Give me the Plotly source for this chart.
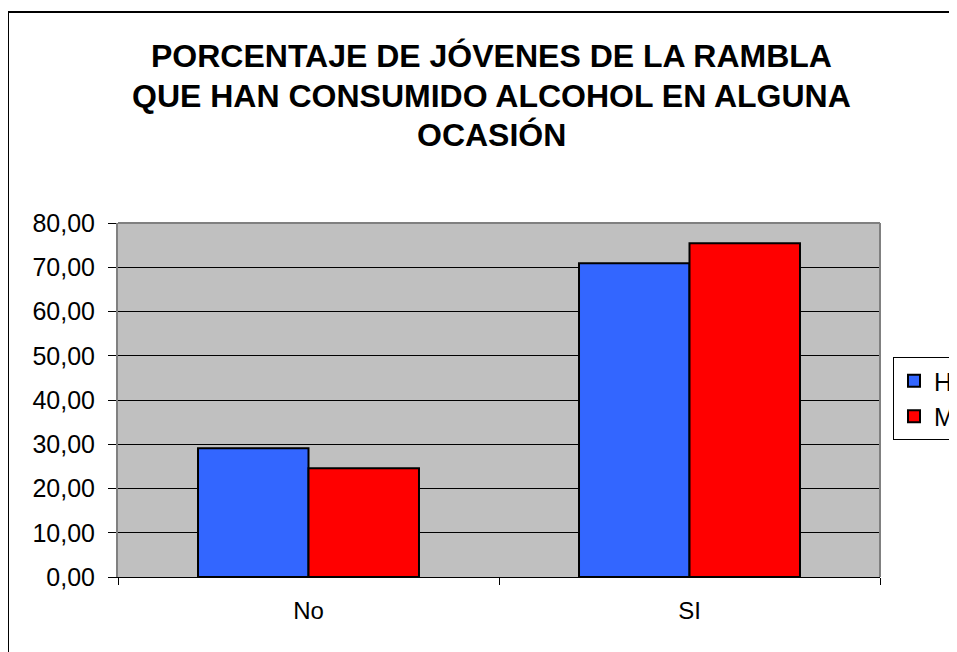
import plotly.graph_objects as go

categories = ["No", "SI"]
h_values = [29.1, 70.9]
m_values = [24.6, 75.4]
y_ticks = [0, 10, 20, 30, 40, 50, 60, 70, 80]
title_lines = ["PORCENTAJE DE JÓVENES DE LA RAMBLA",
               "QUE HAN CONSUMIDO ALCOHOL EN ALGUNA",
               "OCASIÓN"]

# page body has an 8px default margin; work in reference pixel coords
OFF = 8
W, H = 957 - OFF, 652 - OFF
L, T = 118 - OFF, 223 - OFF
RIGHT, BOTTOM = 880 - OFF, 577 - OFF
R, B = W - RIGHT, H - BOTTOM
pw, ph = RIGHT - L, BOTTOM - T

def px(x):
    return (x - OFF - L) / pw

def py(y):
    return (BOTTOM - (y - OFF)) / ph

FONT = "Liberation Sans, Arial, sans-serif"

fig = go.Figure()
fig.add_trace(go.Bar(x=categories, y=h_values, name="H",
                     marker=dict(color="#3366FF", line=dict(color="black", width=2))))
fig.add_trace(go.Bar(x=categories, y=m_values, name="M",
                     marker=dict(color="#FF0000", line=dict(color="black", width=2))))

annotations = []
for line, yc in zip(title_lines, [56, 96, 135]):
    annotations.append(dict(text="<b>%s</b>" % line, xref="paper", yref="paper",
                            x=px(491), y=py(yc), xanchor="center", yanchor="middle",
                            showarrow=False, font=dict(family=FONT, size=32, color="black")))

fig.update_layout(
    width=W, height=H,
    margin=dict(l=L, r=R, t=T, b=B, autoexpand=False),
    paper_bgcolor="white", plot_bgcolor="#C0C0C0",
    separators=",.",
    barmode="group", bargap=0.42, bargroupgap=0,
    font=dict(family=FONT, size=24, color="black"),
    annotations=annotations,
    showlegend=True,
    legend=dict(x=px(893), y=py(357), xanchor="left", yanchor="top",
                bgcolor="white", bordercolor="black", borderwidth=1,
                font=dict(size=25), itemwidth=30, tracegroupgap=0),
    shapes=[
        dict(type="rect", xref="paper", yref="paper",
             x0=px(8), y0=py(700), x1=px(1000), y1=py(12),
             line=dict(color="black", width=2), fillcolor="rgba(0,0,0,0)", layer="below"),
        dict(type="line", xref="paper", yref="paper", x0=0, x1=1, y0=1, y1=1,
             line=dict(color="#808080", width=2)),
        dict(type="line", xref="paper", yref="paper", x0=1, x1=1, y0=0, y1=1,
             line=dict(color="#808080", width=2)),
    ],
)
fig.update_yaxes(range=[0, 80], tickvals=y_ticks, tickformat=".2f",
                 showgrid=True, gridcolor="black", gridwidth=1,
                 showline=True, linecolor="#808080", linewidth=2,
                 ticks="outside", ticklen=8, tickcolor="black", tickfont=dict(size=25),
                 ticklabelstandoff=8,
                 zeroline=False, fixedrange=True)
fig.update_xaxes(showline=True, linecolor="black", linewidth=1,
                 ticks="outside", ticklen=7, tickcolor="black", tickson="boundaries",
                 tickfont=dict(size=24), ticklabelstandoff=12, showgrid=False)

fig.write_html("out.html")
